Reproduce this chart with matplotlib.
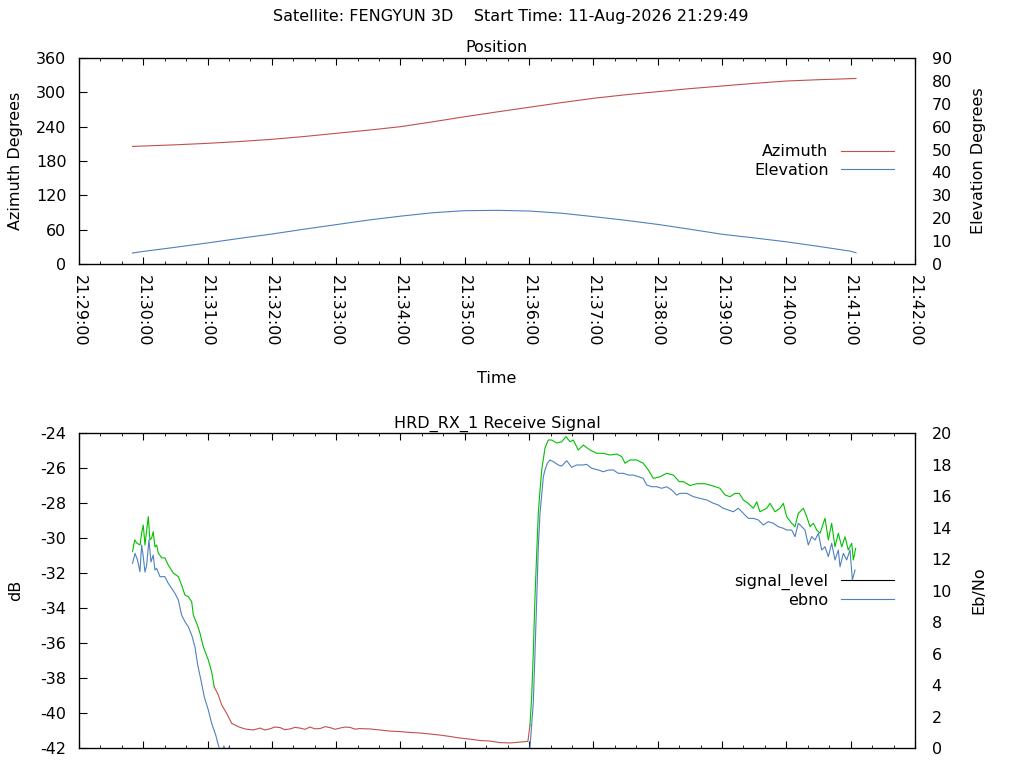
#!/usr/bin/env python3
"""
Satellite pass plot: antenna position and receive signal.
"""

from datetime import datetime, timedelta

import matplotlib
matplotlib.use('Agg')
import matplotlib.pyplot as plt
import matplotlib.dates as mdates
from matplotlib.lines import Line2D
import numpy as np

# all times are seconds after 21:29:00
BASE = datetime(2026, 8, 11, 21, 29, 0)
TITLE = 'Satellite: FENGYUN 3D    Start Time: 11-Aug-2026 21:29:49'

# position track
pos_sec = [50, 60, 90, 120, 150, 180, 210, 240, 270, 300, 330, 360, 390, 420,
           450, 480, 510, 540, 570, 600, 630, 660, 690, 720, 725]
azimuth = [205.4, 206.2, 208.3, 210.9, 214.1, 217.9, 222.8, 228.4, 233.9, 240.0,
           248.5, 257.4, 265.8, 273.9, 282.0, 289.6, 295.8, 301.2, 306.5, 311.1,
           315.7, 319.8, 322.1, 323.9, 324.3]
elevation = [4.8, 5.5, 7.3, 9.2, 11.2, 13.1, 15.2, 17.2, 19.2, 20.9,
             22.4, 23.3, 23.45, 23.15, 22.2, 20.7, 19.1, 17.3, 15.2, 13.0,
             11.4, 9.7, 7.7, 5.6, 4.9]

# receiver signal level (dB)
sig_sec = [50, 52, 54, 57, 58.5, 60, 61.6, 63.2, 64.7, 66.2, 67.8, 69.3, 70.9, 72.5,
           74, 77.2, 80.2, 83.3, 88, 92.7, 95.8, 98.9, 102, 105.2, 106.7, 109.8,
           112.9, 116, 120.7, 123.8, 126.2, 130, 133.2, 137.8, 142.5, 148.6, 154.9,
           162.6, 168.9, 173.5, 178.2, 183, 187.6, 192, 196.9, 201.5, 206.2, 211,
           215.5, 220, 224.9, 229.5, 234.2, 239, 243.5, 248, 252.9, 257.5, 262.2,
           271.5, 280.9, 290.2, 299.5, 308.9, 318.2, 327.5, 336.9, 346.2, 355.5,
           364.8, 374.2, 383.5, 392.8, 402.2, 411.5, 418.9,
           420.8, 422.4, 423.9, 425.5, 427.1, 428.6, 430.2, 431.8, 434.8, 437.9,
           441.1, 445.7, 450.4, 454.4, 458.2, 461.2, 465.9, 470.6, 476.8, 483.1,
           489.2, 495.5, 501.7, 506.4, 509.5, 514.1, 520.4, 526.5, 531.2, 535.9,
           542.1, 548.4, 554.5, 560.1, 563.9, 570.1, 576.4, 584.1, 591.9, 598.1,
           602.8, 607.4, 612.1, 616.1, 619.9, 624.5, 629.2, 632.4, 635.4, 641.7,
           644.8, 649.4, 654.1, 657.2, 660.3, 665, 668.1, 671.2, 675.9, 679, 682.1,
           685.2, 688.3, 691.4, 696.1, 699.2, 702.3, 705.4, 708.5, 711.7, 714.8,
           717.8, 721, 722.5, 724.7]
signal_level = [-30.78, -30.11, -30.29, -30.40, -29.71, -29.26, -30.40, -29.54,
                -28.78, -30.11, -30.00, -29.64, -30.51, -30.40, -30.86, -31.13,
                -31.14, -31.54, -32.00, -32.21, -32.69, -33.26, -33.35, -33.64,
                -34.40, -34.86, -35.43, -36.21, -36.97, -37.64, -38.50, -38.97,
                -39.54, -40.02, -40.59, -40.78, -40.91, -40.97, -40.86, -40.97,
                -40.90, -40.80, -40.83, -40.95, -40.91, -40.82, -40.86, -40.93,
                -40.80, -40.90, -40.89, -40.78, -40.83, -40.93, -40.86, -40.80,
                -40.82, -40.92, -40.89, -40.91, -40.97, -41.03, -41.06, -41.11,
                -41.14, -41.20, -41.26, -41.34, -41.43, -41.49, -41.57, -41.60,
                -41.69, -41.71, -41.66, -41.62,
                -40.69, -39.07, -36.57, -33.35, -30.86, -28.57, -27.26, -26.11,
                -24.86, -24.40, -24.40, -24.57, -24.50, -24.21, -24.50, -24.40,
                -24.97, -24.69, -24.97, -25.16, -25.16, -25.26, -25.20, -25.35,
                -25.73, -25.54, -25.54, -25.73, -26.11, -26.59, -26.50, -26.30,
                -26.40, -26.78, -26.78, -27.00, -26.90, -26.90, -27.03, -27.16,
                -27.54, -27.64, -27.45, -27.45, -27.83, -28.02, -28.30, -27.93,
                -28.50, -28.30, -28.02, -28.50, -28.30, -28.02, -28.78, -29.16,
                -29.35, -28.59, -28.30, -28.78, -29.35, -29.16, -29.54, -29.73,
                -28.87, -30.11, -29.16, -30.50, -29.73, -30.50, -29.93, -30.69,
                -30.30, -31.26, -30.59]

# receiver lock lost / regained (signal drawn red while unlocked)
lock_lost_sec = 126.2
lock_regained_sec = 420.8

# Eb/No
ebno_sec = [50, 52.3, 54.6, 56.9, 58.5, 60, 61.6, 63.2, 65.3, 67.2, 69.3, 70.9,
            72.5, 75.6, 80.2, 83.3, 86.5, 89.6, 92.7, 95.8, 98.9, 102, 105.2,
            108.2, 110.8, 113.8, 116.9, 120.7, 123.8, 127.6, 130, 132.5, 135.3,
            137.2, 140, 142.8, 280,
            420.8, 423.9, 425.5, 427.1, 428.6, 430.2, 433.3, 434.8, 437, 439.5,
            442.6, 447.2, 450.4, 455.1, 459.7, 464.4, 470.6, 473.7, 478.4, 484.6,
            489.2, 493.9, 498.6, 503.2, 507.9, 512.6, 517.2, 521.9, 526.5, 529.7,
            534.4, 539, 543.7, 548.4, 553, 557.7, 560.8, 567, 573.2, 579.5, 585.7,
            591.9, 596.5, 601.2, 605.9, 610.5, 615.2, 619.9, 624.5, 629.2, 633.9,
            638.5, 643.2, 647.9, 652.5, 657.2, 660.3, 665, 668.1, 671.2, 674.4,
            677.4, 680.5, 683.7, 686.8, 689.9, 693, 696.1, 699.2, 702.3, 705.4,
            708.5, 710.1, 713.2, 716.3, 719.4, 721.6, 724.1]
ebno = [11.73, 12.36, 11.94, 11.19, 12.89, 12.15, 11.17, 11.62, 13.21, 11.81,
        12.25, 11.30, 11.41, 10.88, 10.88, 10.46, 10.14, 9.82, 9.40, 8.44, 8.02,
        7.70, 7.17, 6.43, 5.27, 4.32, 3.26, 2.41, 1.57, 0.83, 0.19, -0.25, 0.13,
        -0.25, 0.06, -0.80, np.nan,
        0.00, 2.86, 6.03, 9.40, 12.78, 14.92, 17.22, 17.65, 18.08, 18.29,
        18.18, 17.97, 17.90, 18.24, 17.82, 17.97, 17.97, 18.01, 17.76, 17.65,
        17.54, 17.65, 17.65, 17.44, 17.44, 17.33, 17.33, 17.23, 17.12, 16.70,
        16.59, 16.59, 16.49, 16.59, 16.38, 16.06, 16.17, 16.17, 15.96, 15.85,
        15.75, 15.54, 15.43, 15.22, 15.11, 15.00, 15.22, 14.90, 14.58, 14.58,
        14.48, 14.16, 14.37, 14.27, 14.05, 13.95, 13.84, 13.84, 13.42, 14.27,
        14.05, 13.84, 12.89, 13.42, 13.21, 13.63, 12.57, 12.78, 12.15, 13.00,
        11.94, 12.57, 11.51, 12.36, 11.94, 12.57, 10.67, 11.30]

RED = '#c0504d'
BLUE = '#4f81bd'
GREEN = '#00c000'
FS = 11.5


def to_times(secs):
    return [BASE + timedelta(seconds=float(s)) for s in secs]


def style_time_axis(ax, labels=True):
    ax.set_xlim(BASE, BASE + timedelta(minutes=13))
    ax.xaxis.set_major_locator(mdates.MinuteLocator())
    ax.xaxis.set_minor_locator(mdates.SecondLocator(bysecond=[20, 40]))
    ax.xaxis.set_major_formatter(mdates.DateFormatter('%H:%M:%S'))
    ax.tick_params(axis='x', which='major', direction='in', length=4.7,
                   top=True, pad=8, labelrotation=270)
    ax.tick_params(axis='x', which='minor', direction='in', length=2.4,
                   top=True)
    if not labels:
        ax.tick_params(axis='x', which='both', labelbottom=False)
    ax.tick_params(axis='y', direction='in', length=5.8, right=False, pad=9)
    for sp in ax.spines.values():
        sp.set_linewidth(0.9)


def add_legend(ax, colors, names):
    handles = [Line2D([], [], color=c, lw=0.8) for c in colors]
    ax.legend(handles, names, loc='center right', bbox_to_anchor=(0.975, 0.50),
              frameon=False, markerfirst=False, handlelength=3.3,
              handletextpad=0.8, labelspacing=0.2, borderpad=0, borderaxespad=0)


def main():
    plt.rcParams['font.family'] = ['DejaVu Sans']
    plt.rcParams['font.size'] = FS
    plt.rcParams['axes.unicode_minus'] = False

    fig = plt.figure(figsize=(10.24, 7.68), dpi=100)
    fig.text(0.499, 0.978, TITLE, ha='center', va='center')

    # --- Position ---
    ax1 = fig.add_axes([0.0771, 0.65625, 0.8164, 0.2682])
    ax1r = ax1.twinx()
    pos_t = to_times(pos_sec)
    ax1.plot(pos_t, azimuth, color=RED, lw=0.8)
    ax1r.plot(pos_t, elevation, color=BLUE, lw=0.8)
    style_time_axis(ax1)
    ax1.set_ylim(0, 360)
    ax1.set_yticks(range(0, 361, 60))
    ax1r.set_ylim(0, 90)
    ax1r.set_yticks(range(0, 91, 10))
    ax1r.tick_params(axis='y', length=0, pad=12)
    ax1.set_title('Position', fontsize=FS, pad=4)
    ax1.set_ylabel('Azimuth Degrees')
    ax1.yaxis.set_label_coords(-0.067, 0.5)
    ax1r.set_ylabel('Elevation Degrees')
    ax1r.yaxis.set_label_coords(1.067, 0.5)
    fig.text(0.4854, 1 - 379 / 768, 'Time', ha='center', va='center')
    add_legend(ax1r, [RED, BLUE], ['Azimuth', 'Elevation'])

    # --- Receive signal ---
    ax2 = fig.add_axes([0.0771, 0.026, 0.8164, 0.4102])
    ax2r = ax2.twinx()
    st = np.array(sig_sec)
    sv = np.array(signal_level)
    sig_t = np.array(to_times(sig_sec))
    i_lost = int(np.searchsorted(st, lock_lost_sec))
    i_back = int(np.searchsorted(st, lock_regained_sec))
    ax2.plot(sig_t[:i_lost + 1], sv[:i_lost + 1], color=GREEN, lw=0.8)
    ax2.plot(sig_t[i_lost:i_back + 1], sv[i_lost:i_back + 1], color=RED, lw=0.8)
    ax2.plot(sig_t[i_back:], sv[i_back:], color=GREEN, lw=0.8)
    ax2r.plot(to_times(ebno_sec), ebno, color=BLUE, lw=0.8)
    style_time_axis(ax2, labels=False)
    ax2.set_ylim(-42, -24)
    ax2.set_yticks(range(-42, -23, 2))
    ax2r.set_ylim(0, 20)
    ax2r.set_yticks(range(0, 21, 2))
    ax2r.tick_params(axis='y', length=0, pad=12)
    ax2.set_title('HRD_RX_1 Receive Signal', fontsize=FS, pad=4)
    ax2.set_ylabel('dB')
    ax2.yaxis.set_label_coords(-0.067, 0.5)
    ax2r.set_ylabel('Eb/No')
    ax2r.yaxis.set_label_coords(1.067, 0.5)
    add_legend(ax2r, ['black', BLUE], ['signal_level', 'ebno'])

    fig.savefig('out.png', dpi=100)
    plt.close(fig)


if __name__ == '__main__':
    main()
